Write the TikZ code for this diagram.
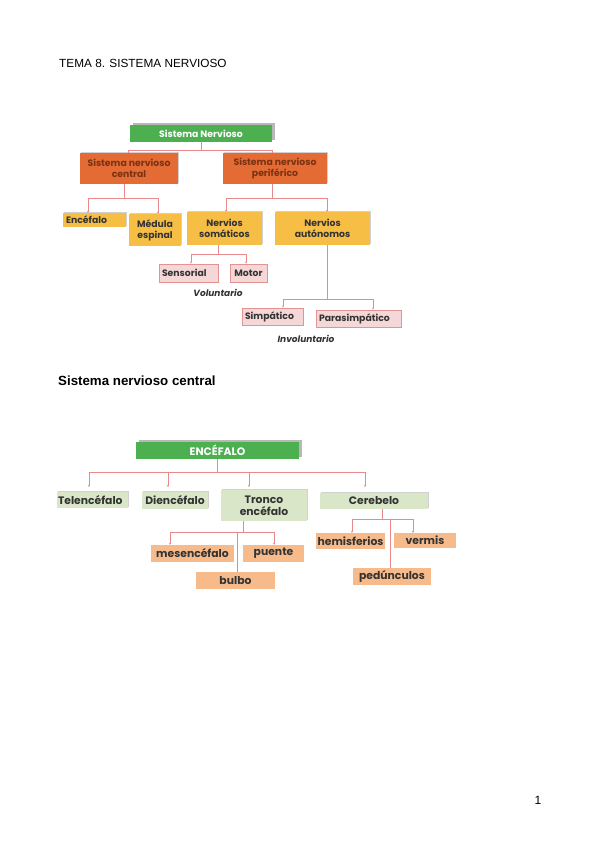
\documentclass[tikz,border=0pt]{standalone}
\usepackage{fontspec}
\setmainfont{Liberation Sans}
\newfontfamily\gfont{Poppins}
\usetikzlibrary{shadows,arrows.meta}
\definecolor{cgreen}{HTML}{4CAF50}
\definecolor{corange}{HTML}{E46B34}
\definecolor{cbrown}{HTML}{7A3214}
\definecolor{cyellow}{HTML}{F6BE45}
\definecolor{cpink}{HTML}{F5D7D7}
\definecolor{cpinkd}{HTML}{E39393}
\definecolor{clgreen}{HTML}{D9E7C8}
\definecolor{csalmon}{HTML}{F6BA8B}
\definecolor{cline}{HTML}{E8898B}
\definecolor{ctext}{HTML}{333333}
\begin{document}
\begin{tikzpicture}[x=1pt,y=-1pt,
  box/.style={inner sep=1pt, align=center, anchor=center, text=ctext,
    font=\gfont\bfseries\fontsize{9.3}{11}\selectfont},
  bigbox/.style={box, font=\gfont\bfseries\fontsize{10.8}{12.5}\selectfont},
  shd/.style={drop shadow={shadow xshift=2.5pt, shadow yshift=2pt, fill=black!28, opacity=1}},
  lshd/.style={drop shadow={shadow xshift=1.2pt, shadow yshift=1pt, fill=black!18, opacity=1}},
  gbox/.style={fill=cgreen, text=white, shd},
  obox/.style={fill=corange, text=cbrown, lshd},
  ybox/.style={fill=cyellow, lshd},
  pbox/.style={fill=cpink, draw=cpinkd, line width=0.8pt},
  lgbox/.style={fill=clgreen, lshd},
  sbox/.style={fill=csalmon},
  lft/.style={align=left, inner xsep=3pt},
  conn/.style={draw=cline, line width=0.6pt},
  tip/.style={-{Stealth[length=2pt,width=2pt]}},
  lbl/.style={text=ctext, font=\gfont\bfseries\itshape\fontsize{9}{10.5}\selectfont}
]
\useasboundingbox[fill=white] (0,0) rectangle (599,848);

% header texts
\node[anchor=base west, inner sep=0pt, font=\fontsize{11.8}{13}\selectfont] (title) at (59,68) {TEMA 8. SISTEMA NERVIOSO};
\node[anchor=base west, inner sep=0pt, font=\bfseries\fontsize{13.3}{15}\selectfont] (head) at (58,385) {Sistema nervioso central};
\node[anchor=base, inner sep=0pt, font=\fontsize{12}{14}\selectfont] (pg) at (538,804) {1};

% ---------- top diagram ----------
\node[box, gbox, minimum width=142pt, minimum height=17pt] (sn) at (201,133.5) {Sistema Nervioso};
\node[box, obox, minimum width=98pt, minimum height=31pt] (snc) at (129,168.5) {Sistema nervioso\\central};
\node[box, obox, minimum width=104pt, minimum height=31pt] (snp) at (275,168.5) {Sistema nervioso\\periférico};
\node[box, ybox, lft, text width=57pt, minimum height=14pt] (enc) at (94.5,220) {Encéfalo};
\node[box, ybox, minimum width=52pt, minimum height=32pt] (med) at (155,230) {Médula\\espinal};
\node[box, ybox, minimum width=75pt, minimum height=33pt] (som) at (224.5,228.5) {Nervios\\somáticos};
\node[box, ybox, minimum width=95pt, minimum height=33pt] (aut) at (322.5,228.5) {Nervios\\autónomos};
\node[box, pbox, lft, text width=53pt, minimum height=18pt] (sens) at (188.5,273) {Sensorial};
\node[box, pbox, minimum width=37pt, minimum height=18pt] (mot) at (248.5,273) {Motor};
\node[lbl] (vol) at (218,293) {Voluntario};
\node[box, pbox, lft, text width=55pt, minimum height=17pt] (simp) at (272.5,316.5) {Simpático};
\node[box, pbox, lft, text width=79pt, minimum height=17pt] (para) at (358.5,318.5) {Parasimpático};
\node[lbl] (invol) at (306,339) {Involuntario};

\draw[conn] (sn.south) -- ++(0,8) -| ([xshift=-1pt]snc.north);
\draw[conn] (sn.south) -- ++(0,8) -| ([xshift=-3pt]snp.north);
\draw[conn, tip] ([xshift=-5pt]snc.south) -- ++(0,14) -| ([xshift=-6.5pt]enc.north);
\draw[conn, tip] ([xshift=-5pt]snc.south) -- ++(0,14) -| ([xshift=3pt]med.north);
\draw[conn, tip] ([xshift=-3pt]snp.south) -- ++(0,14) -| ([xshift=1.5pt]som.north);
\draw[conn, tip] ([xshift=-3pt]snp.south) -- ++(0,14) -| ([xshift=4.5pt]aut.north);
\draw[conn, tip] ([xshift=-6.5pt]som.south) -- ++(0,9) -| ([xshift=2.5pt]sens.north);
\draw[conn, tip] ([xshift=-6.5pt]som.south) -- ++(0,9) -| ([xshift=-2.5pt]mot.north);
\draw[conn, tip] ([xshift=4.5pt]aut.south) -- ++(0,54) -| ([xshift=10.5pt]simp.north);
\draw[conn, tip] ([xshift=4.5pt]aut.south) -- ++(0,54) -| ([xshift=14.5pt]para.north);

% ---------- bottom diagram ----------
\node[bigbox, gbox, minimum width=163pt, minimum height=17pt] (encb) at (217.5,450.5) {ENCÉFALO};
\node[bigbox, lgbox, lft, text width=69pt, minimum height=16pt, inner xsep=1pt] (tel) at (92.5,500) {Telencéfalo};
\node[bigbox, lgbox, minimum width=66pt, minimum height=17pt] (die) at (175,500.5) {Diencéfalo};
\node[bigbox, lgbox, minimum width=86pt, minimum height=31pt] (tro) at (264,505.5) {Tronco\\encéfalo};
\node[bigbox, lgbox, minimum width=108pt, minimum height=16pt] (cer) at (374,501) {Cerebelo};
\node[bigbox, sbox, minimum width=83pt, minimum height=17pt] (mes) at (192.5,553.5) {mesencéfalo};
\node[bigbox, sbox, minimum width=61pt, minimum height=17pt] (pue) at (273.5,553.5) {puente};
\node[bigbox, sbox, minimum width=79pt, minimum height=17pt] (bul) at (235.5,580.5) {bulbo};
\node[bigbox, sbox, minimum width=69pt, minimum height=16pt] (hem) at (350.5,541) {hemisferios};
\node[bigbox, sbox, minimum width=62pt, minimum height=15pt] (ver) at (425,540.5) {vermis};
\node[bigbox, sbox, minimum width=78pt, minimum height=17pt] (ped) at (392,576.5) {pedúnculos};

\coordinate (t1) at (89,487);
\coordinate (t2) at (168,487);
\coordinate (t3) at (249,487);
\coordinate (t4) at (365,487);
\draw[conn, tip] (encb.south) -- ++(0,13) -| (t1);
\draw[conn, tip] (encb.south) -- ++(0,13) -| (t2);
\draw[conn, tip] (encb.south) -- ++(0,13) -| (t3);
\draw[conn, tip] (encb.south) -- ++(0,13) -| (t4);

\draw[conn, tip] ([xshift=-21pt]tro.south) -- ++(0,11) -| ([xshift=-22.5pt]mes.north);
\draw[conn, tip] ([xshift=-21pt]tro.south) -- ++(0,11) -| ([xshift=0.5pt]pue.north);
\draw[conn] ([xshift=-21pt]tro.south) -- ++(0,11) -| ([xshift=1.5pt]bul.north);

\draw[conn, tip] ([xshift=8pt]cer.south) -- ++(0,10) -| ([xshift=1.5pt]hem.north);
\draw[conn, tip] ([xshift=8pt]cer.south) -- ++(0,10) -| ([xshift=-12pt]ver.north);
\draw[conn] ([xshift=8pt]cer.south) -- ++(0,10) -| ([xshift=-2pt]ped.north);
\end{tikzpicture}
\end{document}
